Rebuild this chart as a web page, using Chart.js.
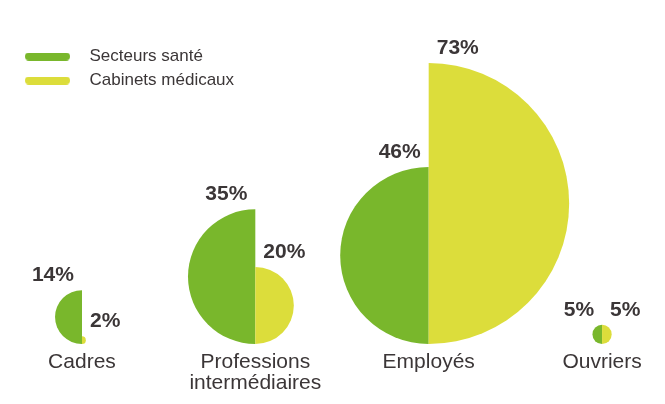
<!DOCTYPE html>
<html lang="fr">
<head>
<meta charset="utf-8">
<title>Secteurs santé / Cabinets médicaux</title>
<script src="https://cdn.jsdelivr.net/npm/chart.js@4.4.1/dist/chart.umd.min.js"></script>
<style>
  html, body { margin: 0; padding: 0; background: #fff; }
  #wrap { width: 665px; height: 404px; }
</style>
</head>
<body>
<div id="wrap"><canvas id="chart"></canvas></div>
<script>
const categories = ['Cadres', ['Professions', 'intermédiaires'], 'Employés', 'Ouvriers'];
const santeValues = [14, 35, 46, 5];
const cabinetValues = [2, 20, 73, 5];
const seriesNames = ['Secteurs santé', 'Cabinets médicaux'];

const GREEN = '#79b72c';
const YELLOW = '#dcdd3b';
const INK = '#3b3637';
const FONT = "'Liberation Sans', Arial, sans-serif";

Chart.defaults.font.family = FONT;
Chart.defaults.color = INK;

// rounded bar used as the legend marker, with some blank room before the text
function legendBar(color) {
    const c = document.createElement('canvas');
    c.width = 56;
    c.height = 8;
    const g = c.getContext('2d');
    g.strokeStyle = color;
    g.lineWidth = 8;
    g.lineCap = 'round';
    g.beginPath();
    g.moveTo(4, 4);
    g.lineTo(41, 4);
    g.stroke();
    return c;
}

// each point becomes a half disc standing on the baseline; its diameter is the value on the y scale
const halfDiscs = {
    id: 'halfDiscs',
    afterDatasetsDraw(chart) {
        const ctx = chart.ctx;
        const yScale = chart.scales.y;
        const base = yScale.getPixelForValue(0);

        chart.data.datasets.forEach((ds, di) => {
            const meta = chart.getDatasetMeta(di);
            const left = ds.side === 'left';

            meta.data.forEach((pt, i) => {
                const v = ds.data[i].y;
                const r = (base - yScale.getPixelForValue(v)) / 2;
                const cy = base - r;

                ctx.save();
                ctx.fillStyle = ds.backgroundColor;
                ctx.beginPath();
                if (left) {
                    ctx.arc(pt.x, cy, r, Math.PI / 2, Math.PI * 1.5);
                } else {
                    ctx.arc(pt.x, cy, r, -Math.PI / 2, Math.PI / 2);
                }
                ctx.closePath();
                ctx.fill();

                ctx.font = `bold 21px ${FONT}`;
                ctx.fillStyle = INK;
                ctx.textBaseline = 'alphabetic';
                ctx.textAlign = left ? 'right' : 'left';
                ctx.fillText(v + '%', pt.x + (left ? -8 : 8), base - 2 * r - 9);
                ctx.restore();
            });
        });
    }
};

new Chart(document.getElementById('chart'), {
    type: 'scatter',
    data: {
        datasets: [
            {
                label: seriesNames[0],
                side: 'left',
                data: santeValues.map((v, i) => ({ x: i, y: v })),
                backgroundColor: GREEN,
                pointRadius: 0
            },
            {
                label: seriesNames[1],
                side: 'right',
                data: cabinetValues.map((v, i) => ({ x: i, y: v })),
                backgroundColor: YELLOW,
                pointRadius: 0
            }
        ]
    },
    options: {
        responsive: true,
        maintainAspectRatio: false,
        animation: false,
        layout: { padding: { top: 40, left: 18, right: 0, bottom: 2 } },
        scales: {
            x: {
                type: 'linear',
                min: -0.369,
                max: 3.363,
                grid: { display: false, drawTicks: false },
                border: { display: false },
                afterBuildTicks: scale => {
                    scale.ticks = categories.map((c, i) => ({ value: i }));
                },
                ticks: {
                    callback: v => categories[v],
                    autoSkip: false,
                    maxRotation: 0,
                    padding: 8,
                    color: INK,
                    font: { size: 21, lineHeight: 1.0 }
                }
            },
            y: { display: false, min: 0, max: 79 }
        },
        plugins: {
            legend: {
                position: 'chartArea',
                align: 'start',
                // empty title only pushes the two legend rows down
                title: { display: true, text: '', font: { size: 10, lineHeight: 1 }, padding: { top: 31, bottom: 0 } },
                labels: {
                    usePointStyle: true,
                    pointStyleWidth: 56,
                    padding: 7,
                    color: INK,
                    font: { size: 17 },
                    generateLabels: chart => chart.data.datasets.map((ds, i) => ({
                        text: ds.label,
                        pointStyle: legendBar(ds.backgroundColor),
                        fillStyle: ds.backgroundColor,
                        strokeStyle: ds.backgroundColor,
                        lineWidth: 0,
                        datasetIndex: i,
                        hidden: false
                    }))
                }
            },
            tooltip: { enabled: false }
        }
    },
    plugins: [halfDiscs]
});
</script>
</body>
</html>
